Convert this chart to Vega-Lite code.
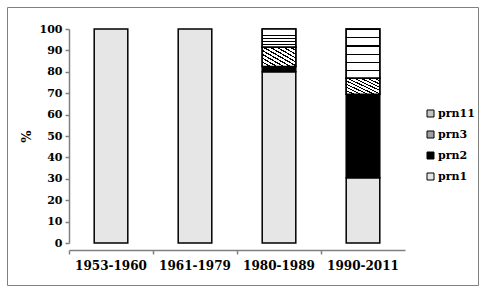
{
  "$schema": "https://vega.github.io/schema/vega-lite/v6.json",
  "width": 471,
  "height": 278,
  "autosize": {"type": "none"},
  "padding": {"left": 7, "top": 7, "right": 7, "bottom": 8},
  "background": "white",
  "config": {
    "view": {"stroke": "#808080", "strokeWidth": 1},
    "font": "DejaVu Serif"
  },
  "data": {
    "values": [
      {"period": "1953-1960", "series": "prn1", "rank": 1, "value": 100},
      {"period": "1961-1979", "series": "prn1", "rank": 1, "value": 100},
      {"period": "1980-1989", "series": "prn1", "rank": 1, "value": 80},
      {"period": "1980-1989", "series": "prn2", "rank": 2, "value": 2.5},
      {"period": "1980-1989", "series": "prn3", "rank": 3, "value": 9},
      {"period": "1980-1989", "series": "prn11", "rank": 4, "value": 8.5},
      {"period": "1990-2011", "series": "prn1", "rank": 1, "value": 30.5},
      {"period": "1990-2011", "series": "prn2", "rank": 2, "value": 39},
      {"period": "1990-2011", "series": "prn3", "rank": 3, "value": 7.5},
      {"period": "1990-2011", "series": "prn11", "rank": 4, "value": 23}
    ]
  },
  "transform": [
    {"stack": "value", "groupby": ["period"], "sort": [{"field": "rank", "order": "ascending"}], "as": ["v0", "v1"]}
  ],
  "encoding": {
    "x": {
      "field": "period",
      "type": "nominal",
      "sort": null,
      "scale": {"range": [62, 398], "paddingInner": 0.6, "paddingOuter": 0.3},
      "axis": {
        "title": null,
        "offset": -35,
        "bandPosition": -0.75,
        "labelOffset": 0,
        "labelAngle": 0,
        "labelFont": "DejaVu Serif",
        "labelFontWeight": "bold",
        "labelFontSize": 12,
        "labelColor": "black",
        "labelPadding": 6,
        "domainColor": "#808080",
        "domainWidth": 1.5,
        "tickColor": "#808080",
        "tickSize": 4,
        "tickWidth": 1.5
      }
    },
    "y": {
      "field": "v1",
      "type": "quantitative",
      "scale": {"domain": [0, 100], "range": [236, 22], "nice": false, "zero": true},
      "axis": {
        "title": "%",
        "titleFont": "DejaVu Serif",
        "titleFontWeight": "bold",
        "titleFontSize": 13,
        "titleColor": "black",
        "titlePadding": 6,
        "offset": -62,
        "values": [0, 10, 20, 30, 40, 50, 60, 70, 80, 90, 100],
        "grid": false,
        "labelFont": "DejaVu Serif",
        "labelFontWeight": "bold",
        "labelFontSize": 11,
        "labelColor": "black",
        "labelPadding": 3,
        "domainColor": "#808080",
        "domainWidth": 1.5,
        "tickColor": "#808080",
        "tickSize": 4,
        "tickWidth": 1.5
      }
    },
    "y2": {"field": "v0"}
  },
  "layer": [
    {
      "mark": {"type": "bar", "stroke": "black", "strokeWidth": 1.5},
      "encoding": {
        "color": {
          "field": "series",
          "type": "nominal",
          "scale": {
            "domain": ["prn11", "prn3", "prn2", "prn1"],
            "range": ["#c4c4c4", "#a0a0a0", "#000000", "#e6e6e6"]
          },
          "legend": {
            "title": null,
            "orient": "none",
            "legendX": 418,
            "legendY": 101,
            "symbolType": "square",
            "symbolSize": 49,
            "symbolStrokeColor": "black",
            "symbolStrokeWidth": 1,
            "symbolOpacity": 1,
            "labelFont": "DejaVu Serif",
            "labelFontWeight": "bold",
            "labelFontSize": 11,
            "labelColor": "black",
            "labelOffset": 2,
            "rowPadding": 9
          }
        }
      }
    },
    {
      "transform": [{"filter": "datum.series === 'prn11'"}],
      "mark": {
        "type": "bar", "stroke": "black", "strokeWidth": 1.5,
        "color": {"gradient": "linear", "x1": 0, "y1": 0, "x2": 0, "y2": 1, "stops": [
          {"offset": 0, "color": "black"}, {"offset": 0.025, "color": "black"}, {"offset": 0.025, "color": "white"}, {"offset": 0.1667, "color": "white"},
          {"offset": 0.1667, "color": "black"}, {"offset": 0.1917, "color": "black"}, {"offset": 0.1917, "color": "white"}, {"offset": 0.3333, "color": "white"},
          {"offset": 0.3333, "color": "black"}, {"offset": 0.3583, "color": "black"}, {"offset": 0.3583, "color": "white"}, {"offset": 0.5, "color": "white"},
          {"offset": 0.5, "color": "black"}, {"offset": 0.525, "color": "black"}, {"offset": 0.525, "color": "white"}, {"offset": 0.6667, "color": "white"},
          {"offset": 0.6667, "color": "black"}, {"offset": 0.6917, "color": "black"}, {"offset": 0.6917, "color": "white"}, {"offset": 0.8333, "color": "white"},
          {"offset": 0.8333, "color": "black"}, {"offset": 0.8583, "color": "black"}, {"offset": 0.8583, "color": "white"}, {"offset": 1, "color": "white"}
        ]}
      },
      "encoding": {}
    },
    {
      "transform": [{"filter": "datum.series === 'prn3'"}],
      "mark": {
        "type": "bar", "stroke": "black", "strokeWidth": 1.5,
        "color": {"gradient": "linear", "x1": 0, "y1": 1, "x2": 1, "y2": 0, "stops": [
          {"offset": 0, "color": "black"}, {"offset": 0.035, "color": "black"}, {"offset": 0.035, "color": "white"}, {"offset": 0.1, "color": "white"},
          {"offset": 0.1, "color": "black"}, {"offset": 0.135, "color": "black"}, {"offset": 0.135, "color": "white"}, {"offset": 0.2, "color": "white"},
          {"offset": 0.2, "color": "black"}, {"offset": 0.235, "color": "black"}, {"offset": 0.235, "color": "white"}, {"offset": 0.3, "color": "white"},
          {"offset": 0.3, "color": "black"}, {"offset": 0.335, "color": "black"}, {"offset": 0.335, "color": "white"}, {"offset": 0.4, "color": "white"},
          {"offset": 0.4, "color": "black"}, {"offset": 0.435, "color": "black"}, {"offset": 0.435, "color": "white"}, {"offset": 0.5, "color": "white"},
          {"offset": 0.5, "color": "black"}, {"offset": 0.535, "color": "black"}, {"offset": 0.535, "color": "white"}, {"offset": 0.6, "color": "white"},
          {"offset": 0.6, "color": "black"}, {"offset": 0.635, "color": "black"}, {"offset": 0.635, "color": "white"}, {"offset": 0.7, "color": "white"},
          {"offset": 0.7, "color": "black"}, {"offset": 0.735, "color": "black"}, {"offset": 0.735, "color": "white"}, {"offset": 0.8, "color": "white"},
          {"offset": 0.8, "color": "black"}, {"offset": 0.835, "color": "black"}, {"offset": 0.835, "color": "white"}, {"offset": 0.9, "color": "white"},
          {"offset": 0.9, "color": "black"}, {"offset": 0.935, "color": "black"}, {"offset": 0.935, "color": "white"}, {"offset": 1, "color": "white"}
        ]}
      },
      "encoding": {}
    }
  ]
}
